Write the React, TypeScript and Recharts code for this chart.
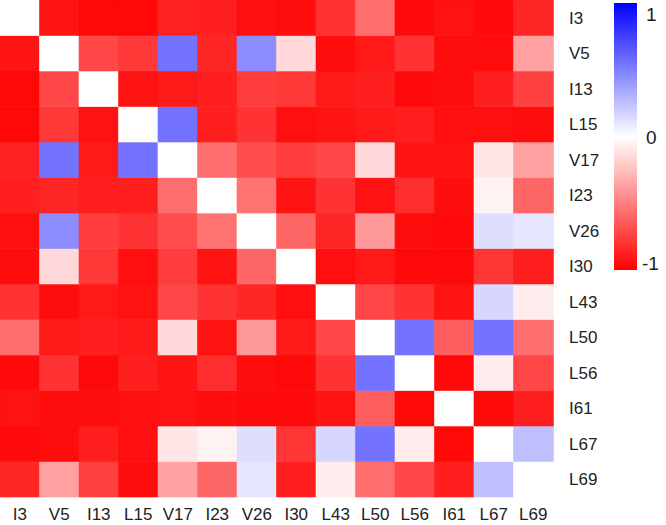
import { BarChart, Bar, Cell, XAxis, YAxis } from "recharts";

const LABELS = ["I3", "V5", "I13", "L15", "V17", "I23", "V26", "I30", "L43", "L50", "L56", "I61", "L67", "L69"];

const ROW_I3 = [0, -0.92, -0.97, -0.97, -0.87, -0.88, -0.94, -0.95, -0.8, -0.57, -0.96, -0.93, -0.96, -0.85];
const ROW_V5 = [-0.92, 0, -0.72, -0.78, 0.55, -0.85, 0.45, -0.15, -0.95, -0.9, -0.8, -0.95, -0.95, -0.37];
const ROW_I13 = [-0.97, -0.72, 0, -0.93, -0.9, -0.88, -0.76, -0.78, -0.9, -0.88, -0.96, -0.95, -0.88, -0.75];
const ROW_L15 = [-0.97, -0.78, -0.93, 0, 0.55, -0.88, -0.8, -0.94, -0.93, -0.9, -0.88, -0.94, -0.94, -0.95];
const ROW_V17 = [-0.87, 0.55, -0.9, 0.55, 0, -0.57, -0.7, -0.76, -0.72, -0.15, -0.92, -0.93, -0.1, -0.37];
const ROW_I23 = [-0.88, -0.85, -0.88, -0.88, -0.57, 0, -0.55, -0.92, -0.8, -0.93, -0.82, -0.95, -0.05, -0.6];
const ROW_V26 = [-0.94, 0.45, -0.76, -0.8, -0.7, -0.55, 0, -0.6, -0.85, -0.4, -0.95, -0.96, 0.13, 0.1];
const ROW_I30 = [-0.95, -0.15, -0.78, -0.94, -0.76, -0.92, -0.6, 0, -0.94, -0.9, -0.96, -0.96, -0.79, -0.88];
const ROW_L43 = [-0.8, -0.95, -0.9, -0.93, -0.72, -0.8, -0.85, -0.94, 0, -0.72, -0.8, -0.92, 0.16, -0.07];
const ROW_L50 = [-0.57, -0.9, -0.88, -0.9, -0.15, -0.93, -0.4, -0.9, -0.72, 0, 0.55, -0.63, 0.55, -0.57];
const ROW_L56 = [-0.96, -0.8, -0.96, -0.88, -0.92, -0.82, -0.95, -0.96, -0.8, 0.55, 0, -0.97, -0.07, -0.72];
const ROW_I61 = [-0.93, -0.95, -0.95, -0.94, -0.93, -0.95, -0.96, -0.96, -0.92, -0.63, -0.97, 0, -0.97, -0.88];
const ROW_L67 = [-0.96, -0.95, -0.88, -0.94, -0.1, -0.05, 0.13, -0.79, 0.16, 0.55, -0.07, -0.97, 0, 0.25];
const ROW_L69 = [-0.85, -0.37, -0.75, -0.95, -0.37, -0.6, 0.1, -0.88, -0.07, -0.57, -0.72, -0.88, 0.25, 0];

const MATRIX = [
  ROW_I3, ROW_V5, ROW_I13, ROW_L15, ROW_V17, ROW_I23, ROW_V26,
  ROW_I30, ROW_L43, ROW_L50, ROW_L56, ROW_I61, ROW_L67, ROW_L69,
];

const ROW_TICKS = LABELS.map((_, i) => i + 0.5);

function colorFor(v: number) {
  if (v < 0) {
    const t = Math.round(255 * (1 + v));
    return `rgb(255,${t},${t})`;
  }
  const t = Math.round(255 * (1 - v));
  return `rgb(${t},${t},255)`;
}

// one stacked segment per row, each worth one unit on the y axis
const data = LABELS.map((name) => {
  const d: Record<string, string | number> = { name };
  LABELS.forEach((_, r) => {
    d[`s${r}`] = 1;
  });
  return d;
});

const font = "'Liberation Sans', Arial, sans-serif";

export default function App() {
  const n = LABELS.length;
  return (
    <div style={{ position: "absolute", left: 0, top: 0, width: 666, height: 525, background: "#fff" }}>
      <BarChart
        width={666}
        height={525}
        data={data}
        margin={{ top: 0, right: 63, bottom: 0, left: 0 }}
        barCategoryGap={0}
        barGap={0}
      >
        <XAxis
          dataKey="name"
          interval={0}
          axisLine={false}
          tickLine={false}
          height={28}
          tickMargin={5}
          tick={{ fill: "#222", fontSize: 17, fontFamily: font }}
        />
        <YAxis
          type="number"
          orientation="right"
          domain={[0, n]}
          ticks={ROW_TICKS}
          interval={0}
          width={50}
          axisLine={false}
          tickLine={false}
          tickMargin={10}
          tickFormatter={(v: number) => LABELS[n - 1 - Math.floor(v)]}
          tick={{ fill: "#222", fontSize: 17, fontFamily: font, textAnchor: "start" }}
        />
        {LABELS.map((_, k) => {
          const row = n - 1 - k;
          return (
            <Bar key={row} dataKey={`s${row}`} stackId="m" isAnimationActive={false}>
              {LABELS.map((__, c) => {
                const fill = colorFor(MATRIX[row][c]);
                return <Cell key={c} fill={fill} stroke={fill} strokeWidth={0.6} />;
              })}
            </Bar>
          );
        })}
      </BarChart>
      <div
        style={{
          position: "absolute",
          left: 614,
          top: 3,
          width: 23,
          height: 267,
          background: "linear-gradient(to bottom, #0000ff, #ffffff, #ff0000)",
        }}
      />
      {[
        { t: "1", y: 15, x: 646 },
        { t: "0", y: 138, x: 646 },
        { t: "-1", y: 264, x: 642 },
      ].map((l) => (
        <div
          key={l.t}
          style={{
            position: "absolute",
            left: l.x,
            top: l.y - 11,
            fontSize: 19,
            lineHeight: "22px",
            fontFamily: font,
            color: "#222",
          }}
        >
          {l.t}
        </div>
      ))}
    </div>
  );
}
